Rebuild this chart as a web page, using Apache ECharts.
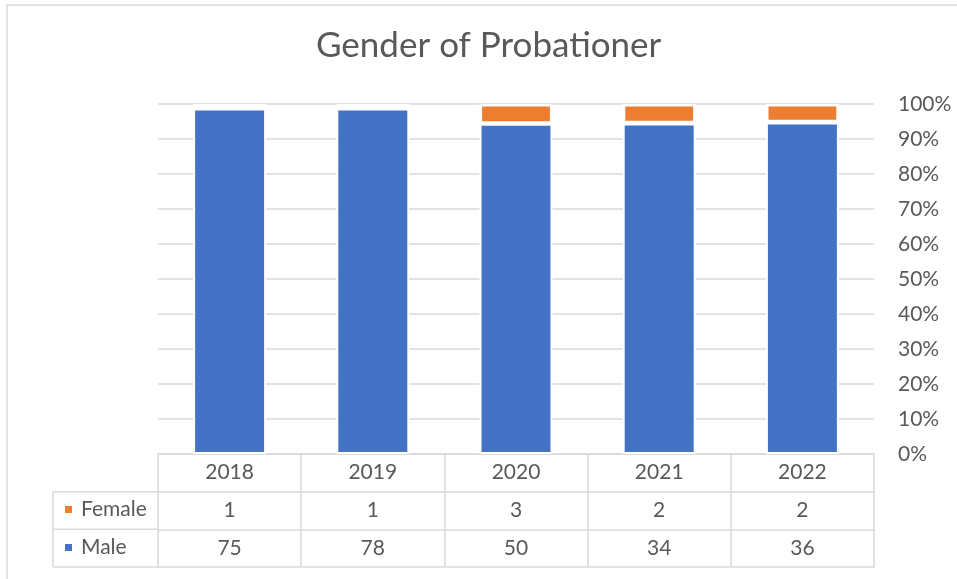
<!DOCTYPE html>
<html>
<head>
<meta charset="utf-8">
<title>Gender of Probationer</title>
<script src="https://cdn.jsdelivr.net/npm/echarts@6/dist/echarts.min.js"></script>
<style>
  html, body { margin: 0; padding: 0; background: #fff; }
  #chart { width: 957px; height: 579px; }
</style>
</head>
<body>
<div id="chart"></div>
<script>
// data
var years = ['2018', '2019', '2020', '2021', '2022'];
var female = [1, 1, 3, 2, 2];
var male = [75, 78, 50, 34, 36];
var yTicks = [0, 10, 20, 30, 40, 50, 60, 70, 80, 90, 100];

var FONT = 'Lato';
var TXT = '#595959';
var LINE = '#d9d9d9';

// 100% stacked: share of each year's total
function share(arr, i) {
  return arr[i] / (female[i] + male[i]) * 100;
}
var malePct = years.map(function (y, i) { return share(male, i); });
var femalePct = years.map(function (y, i) { return share(female, i); });

var chart = echarts.init(document.getElementById('chart'));

// row of the data table under the plot, built as an extra x axis
function tableRow(values, offset, showLabel) {
  return {
    type: 'category',
    data: values.map(String),
    position: 'bottom',
    offset: offset,
    boundaryGap: true,
    axisLine: { show: true, lineStyle: { color: LINE, width: 1.5 } },
    axisTick: { show: false },
    axisLabel: { show: showLabel, interval: 0, margin: 8, fontFamily: FONT, fontSize: 21, color: TXT },
    splitLine: { show: false }
  };
}

chart.setOption({
  animation: false,
  title: {
    text: 'Gender of Probationer',
    left: 311,
    top: 23,
    textStyle: { fontFamily: FONT, fontSize: 35, fontWeight: 'normal', color: TXT }
  },
  grid: { left: 158, right: 83, top: 104, bottom: 125, containLabel: false },
  legend: [
    {
      data: ['Female'], left: 63, top: 499, padding: 0,
      icon: 'rect', itemWidth: 9, itemHeight: 9,
      textStyle: { fontFamily: FONT, fontSize: 21, color: TXT, padding: [0, 0, 0, 3] }
    },
    {
      data: ['Male'], left: 63, top: 537, padding: 0,
      icon: 'rect', itemWidth: 9, itemHeight: 9,
      textStyle: { fontFamily: FONT, fontSize: 21, color: TXT, padding: [0, 0, 0, 3] }
    }
  ],
  xAxis: [
    {
      type: 'category',
      data: years,
      position: 'bottom',
      boundaryGap: true,
      axisLine: { show: true, lineStyle: { color: LINE, width: 1.5 } },
      axisTick: { show: true, interval: 0, length: 113, lineStyle: { color: LINE, width: 1.5 } },
      axisLabel: { interval: 0, margin: 8, fontFamily: FONT, fontSize: 21, color: TXT },
      splitLine: { show: false }
    },
    tableRow(female, 37.7, true),
    tableRow(male, 75.3, true),
    tableRow(male, 113, false)
  ],
  yAxis: {
    type: 'value',
    position: 'right',
    min: yTicks[0],
    max: yTicks[yTicks.length - 1],
    interval: yTicks[1] - yTicks[0],
    axisLine: { show: false },
    axisTick: { show: false },
    axisLabel: {
      formatter: '{value}%', align: 'left', margin: 24,
      fontFamily: FONT, fontSize: 21, color: TXT
    },
    splitLine: { lineStyle: { color: LINE, width: 1.5 } }
  },
  series: [
    {
      name: 'Male',
      type: 'bar',
      stack: 'total',
      barWidth: 73,
      data: malePct,
      itemStyle: { color: '#4472C4', borderColor: '#fff', borderWidth: 2 }
    },
    {
      name: 'Female',
      type: 'bar',
      stack: 'total',
      barWidth: 73,
      data: femalePct,
      itemStyle: { color: '#ED7D31', borderColor: '#fff', borderWidth: 2.6 }
    }
  ],
  graphic: [
    // chart frame, only top and left edges fall inside the picture
    { type: 'rect', shape: { x: 7, y: 5, width: 1200, height: 1200 },
      style: { fill: 'none', stroke: LINE, lineWidth: 1.5 }, silent: true },
    // legend key column of the data table
    { type: 'line', shape: { x1: 53, y1: 491.7, x2: 158, y2: 491.7 }, style: { stroke: LINE, lineWidth: 1.5 } },
    { type: 'line', shape: { x1: 53, y1: 529.3, x2: 158, y2: 529.3 }, style: { stroke: LINE, lineWidth: 1.5 } },
    { type: 'line', shape: { x1: 53, y1: 567, x2: 158, y2: 567 }, style: { stroke: LINE, lineWidth: 1.5 } },
    { type: 'line', shape: { x1: 53, y1: 491.7, x2: 53, y2: 567 }, style: { stroke: LINE, lineWidth: 1.5 } }
  ]
});
</script>
</body>
</html>
